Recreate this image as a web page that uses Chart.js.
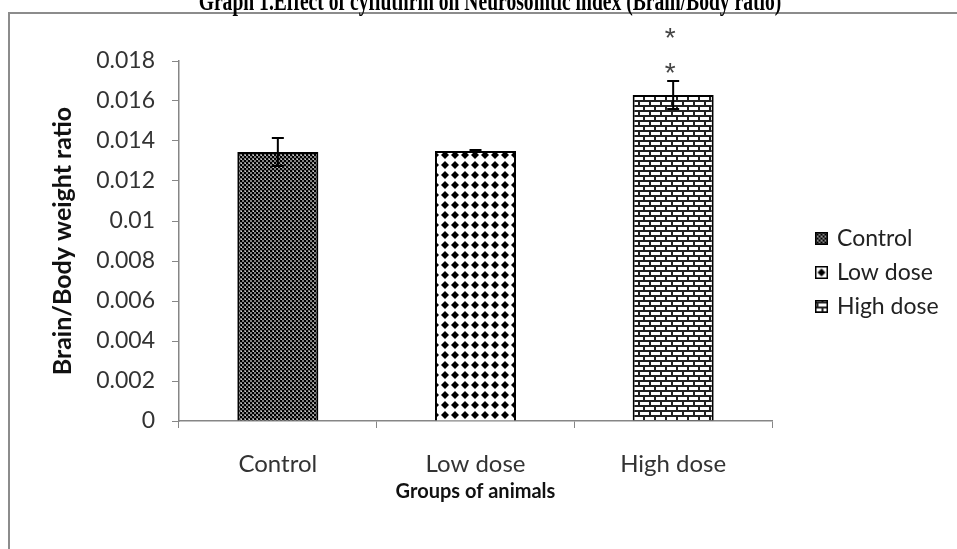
<!DOCTYPE html>
<html>
<head>
<meta charset="utf-8">
<script src="https://cdn.jsdelivr.net/npm/chart.js@4.4.1/dist/chart.umd.min.js"></script>
<style>
  html, body { margin: 0; padding: 0; background: #fff; }
  #wrap { width: 957px; height: 549px; position: relative; }
</style>
</head>
<body>
<div id="wrap"><canvas id="barChart"></canvas></div>
<script>
// ---- data ----
const groups = ["Control", "Low dose", "High dose"];
const ratios = [0.01345, 0.0135, 0.0163];
const errors = [0.0007, 0.00005, 0.0007];
const stars = [0, 0, 2];            // stacked "*" marks above each bar
const yTicks = [0, 0.002, 0.004, 0.006, 0.008, 0.01, 0.012, 0.014, 0.016, 0.018];

const titleText = "Graph 1.Effect of cyfluthrin on Neurosomtic index (Brain/Body ratio)";

// =========================
// fill patterns (Excel style)
// =========================
function makePattern(kind) {
    const c = document.createElement("canvas");
    const g = c.getContext("2d");
    if (kind === "checker") {
        c.width = 4; c.height = 4;
        g.fillStyle = "#808080"; g.fillRect(0, 0, 4, 4);
        g.fillStyle = "#000";
        g.fillRect(0, 0, 2, 2);
        g.fillRect(2, 2, 2, 2);
        g.fillStyle = "#d0d0d0"; g.fillRect(1, 3, 1, 1);
    } else if (kind === "diamond") {
        c.width = 10; c.height = 10;
        g.fillStyle = "#fff"; g.fillRect(0, 0, 10, 10);
        g.fillStyle = "#000";
        g.beginPath();
        g.moveTo(5, 1); g.lineTo(9, 5); g.lineTo(5, 9); g.lineTo(1, 5);
        g.closePath(); g.fill();
    } else {
        c.width = 11; c.height = 10;
        g.fillStyle = "#fff"; g.fillRect(0, 0, 11, 10);
        g.fillStyle = "#222";
        g.fillRect(0, 0, 11, 2);
        g.fillRect(0, 5, 11, 2);
        g.fillRect(0, 0, 2, 5);
        g.fillRect(5, 5, 2, 5);
    }
    return c.getContext("2d").createPattern(c, "repeat");
}

const fills = [makePattern("checker"), makePattern("diamond"), makePattern("brick")];

const axisGrey = "#868686";

// frame + cut-off title
const framePlugin = {
    id: "frame",
    beforeDraw(chart) {
        const ctx = chart.ctx;
        ctx.save();
        ctx.fillStyle = "#fff";
        ctx.fillRect(0, 0, chart.width, chart.height);
        ctx.strokeStyle = "#8c8c8c";
        ctx.lineWidth = 2;
        ctx.beginPath();
        ctx.moveTo(chart.width, 13);
        ctx.lineTo(9, 13);
        ctx.lineTo(9, chart.height);
        ctx.stroke();
        // title is condensed bold serif, mostly cut off by the page top
        ctx.fillStyle = "#000";
        ctx.font = "bold 28px 'Liberation Serif'";
        ctx.textAlign = "center";
        ctx.textBaseline = "alphabetic";
        ctx.translate(490, 10);
        ctx.scale(0.70, 1);
        ctx.fillText(titleText, 0, 0);
        ctx.restore();
    }
};

// error bars and significance marks
const errorPlugin = {
    id: "errorBars",
    afterDatasetsDraw(chart) {
        const ctx = chart.ctx;
        const y = chart.scales.y;
        const meta = chart.getDatasetMeta(0);
        ctx.save();
        ctx.strokeStyle = "#000";
        ctx.lineWidth = 2;
        meta.data.forEach((bar, i) => {
            const top = y.getPixelForValue(ratios[i] + errors[i]);
            const bot = y.getPixelForValue(ratios[i] - errors[i]);
            ctx.beginPath();
            ctx.moveTo(bar.x, top); ctx.lineTo(bar.x, bot);
            ctx.moveTo(bar.x - 6, top); ctx.lineTo(bar.x + 6, top);
            ctx.moveTo(bar.x - 6, bot); ctx.lineTo(bar.x + 6, bot);
            ctx.stroke();
            ctx.fillStyle = "#444";
            ctx.font = "28px 'Liberation Sans'";
            ctx.textAlign = "center";
            ctx.textBaseline = "middle";
            for (let k = 0; k < stars[i]; k++) {
                ctx.fillText("*", bar.x - 3, top - 7 - k * 35);
            }
        });
        ctx.restore();
    }
};

// legend drawn at the right like the Excel one
const legendPlugin = {
    id: "sideLegend",
    afterDraw(chart, args, opts) {
        const ctx = chart.ctx;
        ctx.save();
        ctx.font = "23px Lato";
        ctx.textBaseline = "middle";
        ctx.textAlign = "left";
        groups.forEach((name, i) => {
            const yy = opts.y + i * opts.step;
            const sx = opts.x, sy = yy - 6;
            ctx.save();
            ctx.translate(sx + 1.5, sy + 1.5);
            ctx.fillStyle = fills[i];
            ctx.fillRect(-1.5, -1.5, 13, 13);
            ctx.restore();
            ctx.strokeStyle = "#000";
            ctx.lineWidth = 1.5;
            ctx.strokeRect(sx + 0.75, sy + 0.75, 11.5, 11.5);
            ctx.fillStyle = "#222";
            ctx.fillText(name, sx + 22, yy + 1);
        });
        ctx.restore();
    }
};

const bar = document.getElementById("barChart");

new Chart(bar, {
    type: "bar",
    data: {
        labels: groups,
        datasets: [{
            label: "Brain/Body weight ratio",
            data: ratios,
            backgroundColor: fills,
            borderColor: "#000",
            borderWidth: 2,
            borderSkipped: "bottom",
            categoryPercentage: 1,
            barPercentage: 0.41
        }]
    },
    options: {
        responsive: true,
        maintainAspectRatio: false,
        animation: false,
        layout: { padding: { top: 61, right: 185, left: 0, bottom: 0 } },
        plugins: {
            legend: { display: false },
            tooltip: { enabled: false },
            sideLegend: { x: 815, y: 238, step: 34 }
        },
        scales: {
            x: {
                afterFit(scale) { scale.height = 128; },
                border: { color: axisGrey, width: 1.5 },
                grid: { drawOnChartArea: false, color: axisGrey, tickLength: 7, offset: true },
                ticks: { color: "#333", font: { family: "Lato", size: 24 }, padding: 22 },
                title: {
                    display: true,
                    text: "Groups of animals",
                    color: "#111",
                    font: { family: "Lato", size: 20, weight: "bold" },
                    padding: { top: 0, bottom: 45 }
                }
            },
            y: {
                min: 0,
                max: 0.018,
                afterFit(scale) { scale.width = 179; },
                afterBuildTicks(scale) { scale.ticks = yTicks.map(v => ({ value: v })); },
                border: { color: axisGrey, width: 1.5 },
                grid: { drawOnChartArea: false, color: axisGrey, tickLength: 7 },
                ticks: {
                    color: "#333",
                    font: { family: "Lato", size: 23 },
                    padding: 17,
                    callback: v => String(parseFloat(v.toFixed(3)))
                },
                title: {
                    display: true,
                    text: "Brain/Body weight ratio",
                    color: "#111",
                    font: { family: "Lato", size: 25, weight: "bold" },
                    padding: { top: 48, bottom: 0 }
                }
            }
        }
    },
    plugins: [framePlugin, errorPlugin, legendPlugin]
});
</script>
</body>
</html>
